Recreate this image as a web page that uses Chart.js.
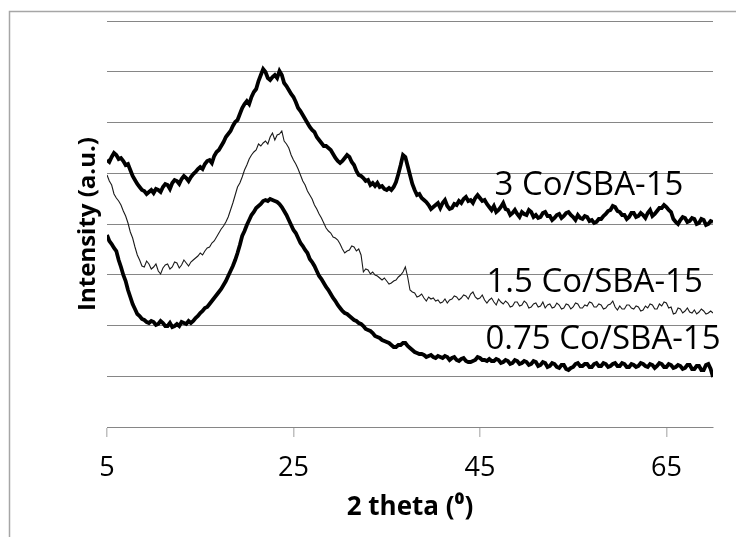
<!DOCTYPE html>
<html lang="en">
<head>
<meta charset="UTF-8">
<title>XRD - Co/SBA-15</title>
<style>
    body { margin: 0; background: #fff; }
    #wrap { width: 736px; height: 537px; }
</style>
</head>
<body>
<div id="wrap"><canvas id="xrd_chart" width="736" height="537"></canvas></div>

<script src="https://cdn.jsdelivr.net/npm/chart.js@4.4.1/dist/chart.umd.min.js"></script>
<script>
// 2 theta sampling (deg)
var theta = [
    5, 5.25, 5.5, 5.75, 6, 6.25, 6.5, 6.75, 7, 7.25,
    7.5, 7.75, 8, 8.25, 8.5, 8.75, 9, 9.25, 9.5, 9.75,
    10, 10.25, 10.5, 10.75, 11, 11.25, 11.5, 11.75, 12, 12.25,
    12.5, 12.75, 13, 13.25, 13.5, 13.75, 14, 14.25, 14.5, 14.75,
    15, 15.25, 15.5, 15.75, 16, 16.25, 16.5, 16.75, 17, 17.25,
    17.5, 17.75, 18, 18.25, 18.5, 18.75, 19, 19.25, 19.5, 19.75,
    20, 20.25, 20.5, 20.75, 21, 21.25, 21.5, 21.75, 22, 22.25,
    22.5, 22.75, 23, 23.25, 23.5, 23.75, 24, 24.25, 24.5, 24.75,
    25, 25.25, 25.5, 25.75, 26, 26.25, 26.5, 26.75, 27, 27.25,
    27.5, 27.75, 28, 28.25, 28.5, 28.75, 29, 29.25, 29.5, 29.75,
    30, 30.25, 30.5, 30.75, 31, 31.25, 31.5, 31.75, 32, 32.25,
    32.5, 32.75, 33, 33.25, 33.5, 33.75, 34, 34.25, 34.5, 34.75,
    35, 35.25, 35.5, 35.75, 36, 36.25, 36.5, 36.75, 37, 37.25,
    37.5, 37.75, 38, 38.25, 38.5, 38.75, 39, 39.25, 39.5, 39.75,
    40, 40.25, 40.5, 40.75, 41, 41.25, 41.5, 41.75, 42, 42.25,
    42.5, 42.75, 43, 43.25, 43.5, 43.75, 44, 44.25, 44.5, 44.75,
    45, 45.25, 45.5, 45.75, 46, 46.25, 46.5, 46.75, 47, 47.25,
    47.5, 47.75, 48, 48.25, 48.5, 48.75, 49, 49.25, 49.5, 49.75,
    50, 50.25, 50.5, 50.75, 51, 51.25, 51.5, 51.75, 52, 52.25,
    52.5, 52.75, 53, 53.25, 53.5, 53.75, 54, 54.25, 54.5, 54.75,
    55, 55.25, 55.5, 55.75, 56, 56.25, 56.5, 56.75, 57, 57.25,
    57.5, 57.75, 58, 58.25, 58.5, 58.75, 59, 59.25, 59.5, 59.75,
    60, 60.25, 60.5, 60.75, 61, 61.25, 61.5, 61.75, 62, 62.25,
    62.5, 62.75, 63, 63.25, 63.5, 63.75, 64, 64.25, 64.5, 64.75,
    65, 65.25, 65.5, 65.75, 66, 66.25, 66.5, 66.75, 67, 67.25,
    67.5, 67.75, 68, 68.25, 68.5, 68.75, 69, 69.25, 69.5, 69.75,
    70
];

// intensities (a.u., curves stacked with offset)
var co3 = [
    267, 265, 270, 274, 272, 268, 269, 266, 262, 263,
    257, 251, 247, 243, 240, 237, 236, 233, 235, 237,
    234, 238, 237, 235, 240, 243, 242, 238, 244, 247,
    246, 243, 248, 251, 249, 246, 250, 253, 255, 258,
    260, 258, 263, 266, 267, 264, 271, 275, 277, 281,
    285, 290, 293, 296, 301, 305, 307, 313, 319, 323,
    326, 323, 330, 335, 338, 346, 352, 358, 355, 349,
    347, 350, 352, 349, 356, 352, 344, 341, 337, 333,
    330, 325, 319, 316, 312, 308, 304, 300, 297, 295,
    290, 287, 284, 281, 281, 279, 277, 273, 269, 266,
    264, 266, 269, 272, 270, 265, 262, 256, 252, 251,
    249, 246, 247, 242, 244, 241, 244, 240, 241, 238,
    237, 239, 237, 240, 245, 253, 262, 272, 270, 261,
    252, 243, 237, 232, 233, 229, 227, 225, 222, 218,
    220, 222, 224, 219, 224, 227, 221, 218, 219, 223,
    222, 226, 224, 228, 230, 226, 227, 224, 229, 232,
    229, 226, 227, 223, 220, 217, 221, 215, 217, 220,
    224, 218, 217, 212, 214, 217, 213, 210, 215, 213,
    212, 217, 215, 210, 212, 209, 210, 214, 215, 211,
    211, 207, 209, 212, 213, 209, 211, 214, 215, 212,
    210, 207, 212, 209, 208, 211, 210, 206, 207, 204,
    205, 208, 208, 211, 213, 216, 217, 221, 220, 216,
    215, 212, 212, 208, 210, 214, 214, 210, 211, 214,
    212, 209, 214, 217, 211, 213, 216, 219, 219, 222,
    220, 217, 215, 208, 205, 203, 207, 210, 209, 205,
    206, 209, 208, 203, 204, 208, 207, 202, 203, 206,
    205
];

var co15 = [
    252, 246, 242, 233, 229, 226, 222, 216, 211, 204,
    195, 189, 180, 172, 167, 161, 160, 166, 163, 158,
    160, 163, 156, 153, 159, 162, 163, 158, 160, 165,
    164, 159, 162, 167, 164, 161, 165, 167, 169, 171,
    174, 172, 176, 179, 180, 184, 186, 190, 194, 198,
    201, 205, 210, 217, 224, 232, 240, 244, 250, 257,
    262, 268, 272, 275, 277, 283, 281, 284, 286, 283,
    290, 294, 287, 292, 293, 296, 286, 283, 279, 272,
    267, 263, 258, 252, 246, 242, 236, 232, 228, 222,
    218, 213, 209, 204, 199, 196, 194, 190, 189, 187,
    183, 178, 174, 176, 177, 181, 180, 176, 178, 172,
    155, 158, 157, 153, 155, 152, 151, 149, 147, 149,
    146, 143, 144, 146, 147, 150, 152, 155, 160, 150,
    137, 135, 134, 130, 131, 133, 129, 126, 130, 128,
    129, 126, 127, 124, 125, 128, 124, 127, 128, 131,
    130, 127, 129, 132, 131, 128, 133, 135, 130, 128,
    129, 132, 127, 124, 127, 129, 125, 122, 128, 125,
    123, 126, 124, 120, 121, 125, 125, 121, 122, 126,
    124, 119, 120, 123, 124, 120, 121, 125, 119, 122,
    123, 119, 120, 124, 122, 118, 119, 123, 122, 118,
    120, 124, 123, 119, 119, 122, 121, 125, 124, 120,
    120, 123, 122, 118, 119, 122, 123, 126, 120, 117,
    121, 118, 118, 122, 122, 119, 118, 121, 120, 116,
    117, 121, 119, 123, 122, 118, 118, 123, 121, 125,
    124, 119, 120, 113, 114, 119, 118, 114, 116, 119,
    115, 114, 117, 113, 115, 118, 116, 113, 114, 116,
    114
];

var co075 = [
    192, 186, 183, 179, 176, 167, 160, 152, 146, 137,
    130, 123, 118, 113, 111, 108, 107, 105, 104, 106,
    105, 102, 103, 106, 104, 101, 101, 104, 100, 101,
    103, 101, 105, 104, 103, 106, 104, 106, 109, 111,
    114, 116, 119, 120, 123, 126, 129, 132, 135, 138,
    142, 146, 151, 156, 161, 167, 174, 182, 191, 196,
    202, 207, 212, 215, 219, 221, 223, 226, 227, 226,
    228, 227, 226, 225, 223, 220, 216, 212, 207, 202,
    197, 194, 189, 184, 181, 177, 174, 168, 165, 161,
    156, 151, 148, 144, 140, 137, 133, 129, 126, 122,
    119, 116, 114, 113, 111, 109, 107, 106, 104, 103,
    101, 98, 97, 96, 94, 91, 90, 89, 87, 86,
    85, 84, 82, 80, 80, 82, 82, 84, 84, 81,
    79, 77, 75, 74, 73, 73, 72, 70, 71, 72,
    70, 69, 71, 70, 69, 71, 70, 67, 69, 70,
    67, 66, 68, 69, 66, 65, 65, 66, 67, 70,
    69, 67, 67, 66, 68, 66, 66, 68, 67, 64,
    65, 67, 66, 63, 64, 67, 66, 63, 64, 66,
    65, 62, 63, 66, 65, 61, 62, 65, 64, 60,
    61, 64, 63, 60, 59, 62, 62, 58, 57, 59,
    60, 63, 64, 61, 61, 63, 63, 60, 60, 63,
    64, 61, 61, 64, 63, 60, 61, 63, 64, 61,
    61, 64, 63, 60, 60, 63, 62, 60, 61, 64,
    63, 61, 60, 63, 62, 59, 61, 64, 63, 60,
    60, 63, 62, 59, 60, 62, 61, 58, 59, 62,
    62, 58, 58, 61, 61, 57, 57, 62, 63, 58,
    50
];

var xTicks = [5, 25, 45, 65];
var seriesNames = ["3 Co/SBA-15", "1.5 Co/SBA-15", "0.75 Co/SBA-15"];

function toPoints(ys) {
    return theta.map(function (t, i) { return { x: t, y: ys[i] }; });
}

// grey frame of the chart object (left + top edge)
var framePlugin = {
    id: 'frame',
    beforeDraw: function (chart) {
        var ctx = chart.ctx;
        ctx.save();
        ctx.strokeStyle = '#a6a6a6';
        ctx.lineWidth = 1.5;
        ctx.beginPath();
        ctx.moveTo(9.5, 537);
        ctx.lineTo(9.5, 11.5);
        ctx.lineTo(736, 11.5);
        ctx.stroke();
        ctx.restore();
    }
};

// sample names written next to each curve
var namePlugin = {
    id: 'names',
    afterDatasetsDraw: function (chart) {
        var ctx = chart.ctx;
        var xs = chart.scales.x, ys = chart.scales.y;
        var at = [[56.7, 241], [57.3, 144], [58.2, 87]];
        ctx.save();
        ctx.font = '33px "Open Sans"';
        ctx.fillStyle = '#000';
        ctx.textAlign = 'center';
        ctx.textBaseline = 'middle';
        seriesNames.forEach(function (name, i) {
            ctx.fillText(name, xs.getPixelForValue(at[i][0]), ys.getPixelForValue(at[i][1]));
        });
        ctx.restore();
    }
};

function draw_chart() {
    var ctx = document.getElementById("xrd_chart").getContext('2d');
    var myChart = new Chart(ctx, {
        type: 'line',
        data: {
            datasets: [{
                label: seriesNames[0],
                data: toPoints(co3),
                borderColor: '#000',
                borderWidth: 3.8
            }, {
                label: seriesNames[1],
                data: toPoints(co15),
                borderColor: '#1a1a1a',
                borderWidth: 1.1
            }, {
                label: seriesNames[2],
                data: toPoints(co075),
                borderColor: '#000',
                borderWidth: 3.8
            }]
        },
        options: {
            responsive: false,
            animation: false,
            layout: { padding: { left: 60, right: 23, top: 21, bottom: 10 } },
            elements: { point: { radius: 0 }, line: { tension: 0 } },
            plugins: {
                legend: { display: false },
                tooltip: { enabled: false }
            },
            scales: {
                x: {
                    type: 'linear',
                    min: 5,
                    max: 70,
                    afterBuildTicks: function (scale) {
                        scale.ticks = xTicks.map(function (v) { return { value: v }; });
                    },
                    grid: { drawOnChartArea: false, drawTicks: true, tickLength: 10, color: '#bfbfbf', lineWidth: 1.5 },
                    border: { color: '#868686', width: 1 },
                    ticks: { padding: 14.8, maxRotation: 0, color: '#000', font: { family: 'Open Sans', size: 27 } },
                    title: {
                        display: true,
                        text: '2 theta (\u2070)',
                        color: '#000',
                        font: { family: 'Open Sans', size: 26, weight: 'bold' },
                        padding: { top: -6.6, bottom: 3.4 }
                    }
                },
                y: {
                    min: 0,
                    max: 406,
                    ticks: { display: false, stepSize: 50.75 },
                    grid: { color: '#868686', lineWidth: 1, drawTicks: false },
                    border: { display: false },
                    title: {
                        display: true,
                        text: 'Intensity (a.u.)',
                        color: '#000',
                        font: { family: 'Open Sans', size: 24, weight: 'bold' },
                        padding: { top: 13.6, bottom: 4.6 }
                    }
                }
            }
        },
        plugins: [framePlugin, namePlugin]
    });
}

draw_chart();
</script>
</body>
</html>
